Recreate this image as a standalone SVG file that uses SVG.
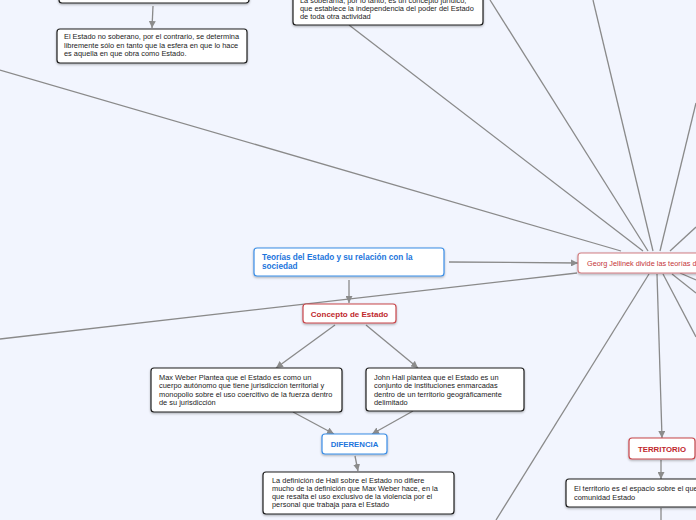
<svg xmlns="http://www.w3.org/2000/svg" width="696" height="520" viewBox="0 0 696 520">
<defs>
<marker id="arr" viewBox="0 0 10 10" refX="10" refY="5" markerWidth="7" markerHeight="7" markerUnits="userSpaceOnUse" orient="auto">
<path d="M0,0 L10,5 L0,10 z" fill="#8c8c8c"/>
</marker>
<filter id="sh" x="-10%" y="-20%" width="120%" height="160%">
<feDropShadow dx="0" dy="1.2" stdDeviation="0.8" flood-color="#000" flood-opacity="0.3"/>
</filter>
</defs>
<style>
.c{stroke:#8a8a8a;stroke-width:1.3;fill:none}
.a{marker-end:url(#arr)}
.bk{fill:#fff;stroke:#1e1e1e;stroke-width:1.2;filter:url(#sh)}
.bl{fill:#fff;stroke:#3b8ee6;stroke-width:1.2;filter:url(#sh)}
.rd{fill:#fff;stroke:#c8464b;stroke-width:1.2;filter:url(#sh)}
.rl{fill:#fff;stroke:#d27f83;stroke-width:1.2;filter:url(#sh)}
.t{font-family:"Liberation Sans",Arial,sans-serif;font-size:7.4px;fill:#1a1a1a}
.tb{font-family:"Liberation Sans",Arial,sans-serif;font-size:8.2px;font-weight:bold;fill:#1c75dc}
.td{font-family:"Liberation Sans",Arial,sans-serif;font-size:7.8px;font-weight:bold;fill:#1c75dc}
.tr{font-family:"Liberation Sans",Arial,sans-serif;font-size:8px;font-weight:bold;fill:#c0282d}
.tt{font-family:"Liberation Sans",Arial,sans-serif;font-size:7.8px;font-weight:bold;fill:#c0282d}
.th{font-family:"Liberation Sans",Arial,sans-serif;font-size:7.3px;fill:#c4353a}
</style>
<rect width="696" height="520" fill="#f2f5fe"/>
<g id="connectors">
<path class="c a" d="M153,6 L152,28"/>
<path class="c" d="M0,70 L621,251"/>
<path class="c" d="M349,25 L643,251"/>
<path class="c" d="M490,0 L648,251"/>
<path class="c" d="M593,0 L653,251"/>
<path class="c" d="M696,103 L660,251"/>
<path class="c" d="M696,227 L670,251"/>
<path class="c a" d="M449,262 L578,263"/>
<path class="c" d="M577,273 L0,339"/>
<path class="c a" d="M349,280 L349,303"/>
<path class="c a" d="M335,325 L276,368"/>
<path class="c a" d="M366,325 L418,368"/>
<path class="c a" d="M293,412 L334,434"/>
<path class="c a" d="M413,411 L372,434"/>
<path class="c a" d="M355,456 L358,471"/>
<path class="c a" d="M657,274 L662,438"/>
<path class="c a" d="M661,460 L661,479"/>
<path class="c" d="M661,508 L661,520"/>
<path class="c" d="M649,274 L496,520"/>
<path class="c" d="M663,274 L696,337"/>
<path class="c" d="M672,274 L696,293"/>
<path class="c" d="M680,273 L696,280"/>
</g>
<g id="n-top-left">
<rect class="bk" x="59" y="-20" width="190" height="23" rx="3"/>
</g>
<g id="n-no-soberano">
<rect class="bk" x="57" y="29" width="190" height="34" rx="3"/>
<text class="t" x="64" y="39">El Estado no soberano, por el contrario, se determina</text>
<text class="t" x="64" y="47.5">libremente sólo en tanto que la esfera en que lo hace</text>
<text class="t" x="64" y="56">es aquella en que obra como Estado.</text>
</g>
<g id="n-soberania">
<rect class="bk" x="293" y="-20" width="190" height="45" rx="3"/>
<text class="t" x="300" y="3">La soberanía, por lo tanto, es un concepto jurídico,</text>
<text class="t" x="300" y="11">que establece la independencia del poder del Estado</text>
<text class="t" x="300" y="19">de toda otra actividad</text>
</g>
<g id="n-teorias">
<rect class="bl" x="254" y="248" width="190" height="28" rx="3"/>
<text class="tb" x="262" y="260">Teorías del Estado y su relación con la</text>
<text class="tb" x="262" y="269">sociedad</text>
</g>
<g id="n-jellinek">
<rect class="rl" x="578" y="253" width="130" height="20" rx="3"/>
<text class="th" x="587" y="265.5">Georg Jellinek divide las teorías d</text>
</g>
<g id="n-concepto">
<rect class="rd" x="303" y="304" width="93" height="19" rx="3"/>
<text class="tr" x="349.5" y="316.5" text-anchor="middle">Concepto de Estado</text>
</g>
<g id="n-weber">
<rect class="bk" x="151" y="368" width="191" height="44" rx="3"/>
<text class="t" x="159" y="380">Max Weber Plantea que el  Estado es  como un</text>
<text class="t" x="159" y="388.3">cuerpo autónomo que tiene jurisdicción territorial y</text>
<text class="t" x="159" y="396.6">monopolio sobre el uso coercitivo de la fuerza dentro</text>
<text class="t" x="159" y="404.9">de su jurisdicción</text>
</g>
<g id="n-hall">
<rect class="bk" x="366" y="368" width="158" height="43" rx="3"/>
<text class="t" x="374" y="380">John Hall plantea que el Estado  es un</text>
<text class="t" x="374" y="388.3">conjunto de instituciones enmarcadas</text>
<text class="t" x="374" y="396.6">dentro de un territorio geográficamente</text>
<text class="t" x="374" y="404.9">delimitado</text>
</g>
<g id="n-diferencia">
<rect class="bl" x="322" y="434" width="65" height="20" rx="3"/>
<text class="td" x="354.5" y="446.5" text-anchor="middle">DIFERENCIA</text>
</g>
<g id="n-definicion">
<rect class="bk" x="263" y="472" width="191" height="42" rx="3"/>
<text class="t" x="272" y="483">La definición de Hall sobre el Estado no difiere</text>
<text class="t" x="272" y="491">mucho de la definición que Max Weber hace, en la</text>
<text class="t" x="272" y="499">que resalta el uso exclusivo de la violencia por el</text>
<text class="t" x="272" y="507">personal que trabaja para el Estado</text>
</g>
<g id="n-territorio">
<rect class="rd" x="629" y="438" width="66" height="21" rx="3"/>
<text class="tt" x="662" y="451.5" text-anchor="middle">TERRITORIO</text>
</g>
<g id="n-territorio-def">
<rect class="bk" x="566" y="479" width="150" height="28" rx="3"/>
<text class="t" x="574" y="491">El territorio es el espacio sobre el que</text>
<text class="t" x="574" y="499.5">comunidad Estado</text>
</g>
</svg>
